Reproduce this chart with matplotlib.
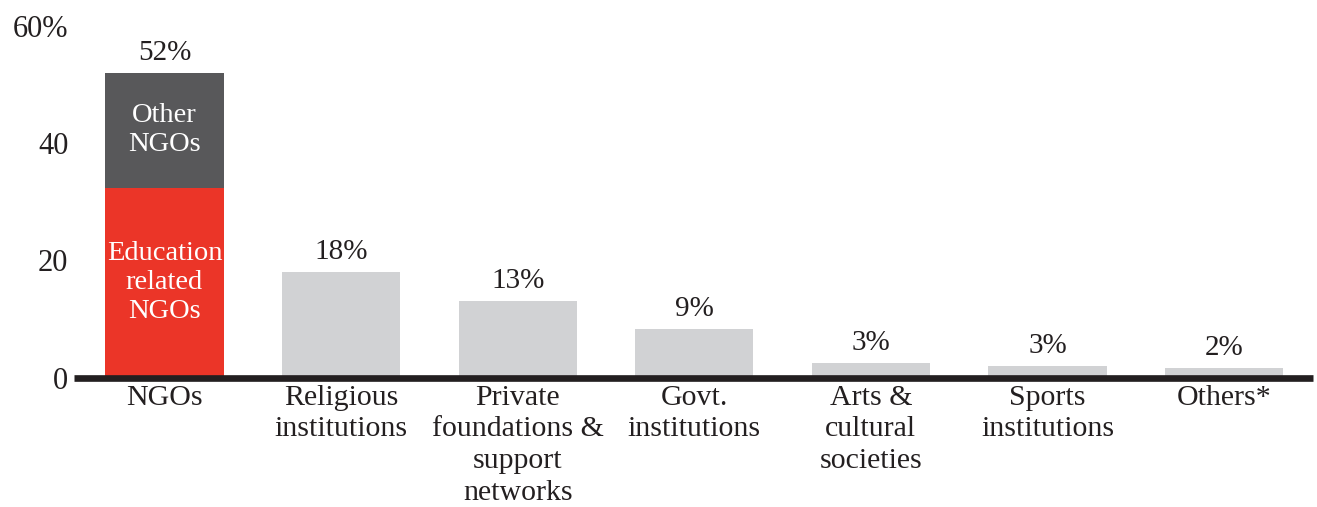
import matplotlib
matplotlib.use("Agg")
import matplotlib.pyplot as plt

categories = ["NGOs", "Religious\ninstitutions", "Private\nfoundations &\nsupport\nnetworks",
              "Govt.\ninstitutions", "Arts &\ncultural\nsocieties", "Sports\ninstitutions", "Others*"]
bar_values = [52, 18, 13, 8.3, 2.5, 2.0, 1.6]
value_labels = ["52%", "18%", "13%", "9%", "3%", "3%", "2%"]
ngo_education = 32.4
ngo_other = 19.6
segment_labels = ["Education\nrelated\nNGOs", "Other\nNGOs"]
yticks = [0, 20, 40, 60]
ytick_labels = ["0", "20", "40", "60%"]

TXT = "#231F20"
RED = "#EB3528"
DARK = "#58585A"
LIGHT = "#D1D2D4"

plt.rcParams['font.family'] = ['Liberation Serif', 'DejaVu Serif']

fig = plt.figure(figsize=(13.17, 5.07), dpi=100)
ax = fig.add_axes([74/1317, 129.3/507, (1313-74)/1317, (481-129.3)/507])

x = list(range(len(categories)))
w = 0.67
# NGO stacked bar
ax.bar(0, ngo_education, width=w, color=RED, zorder=1)
ax.bar(0, ngo_other, width=w, bottom=ngo_education, color=DARK, zorder=1)
ax.text(0, ngo_education/2, segment_labels[0], ha='center', va='center', color='white',
        fontsize=20.5, linespacing=1.22)
ax.text(0, ngo_education + ngo_other/2, segment_labels[1], ha='center', va='center', color='white',
        fontsize=20.5, linespacing=1.22)
# other bars
ax.bar(x[1:], bar_values[1:], width=w, color=LIGHT, zorder=1)

for xi, v, lab in zip(x, bar_values, value_labels):
    top = ngo_education + ngo_other if xi == 0 else v
    ax.annotate(lab, (xi, top), xytext=(0, 9.5), textcoords='offset points',
                ha='center', va='baseline', fontsize=21, color=TXT)

ax.set_xlim(-0.512, 6.503)
ax.set_ylim(0, 60)
ax.set_xticks(x)
ax.set_xticklabels(categories, fontsize=21.5, color=TXT, linespacing=1.29, va='top')
ax.set_yticks(yticks)
ax.set_yticklabels(ytick_labels, fontsize=22, color=TXT)
ax.tick_params(axis='both', length=0)
ax.tick_params(axis='x', pad=5)
ax.tick_params(axis='y', pad=4)

for s in ['top', 'right', 'left']:
    ax.spines[s].set_visible(False)
ax.spines['bottom'].set_linewidth(4.8)
ax.spines['bottom'].set_color(TXT)
ax.spines['bottom'].set_zorder(3)
ax.spines['bottom'].set_capstyle('butt')
ax.patch.set_visible(False)

fig.savefig("out.png", dpi=100, facecolor='white')
